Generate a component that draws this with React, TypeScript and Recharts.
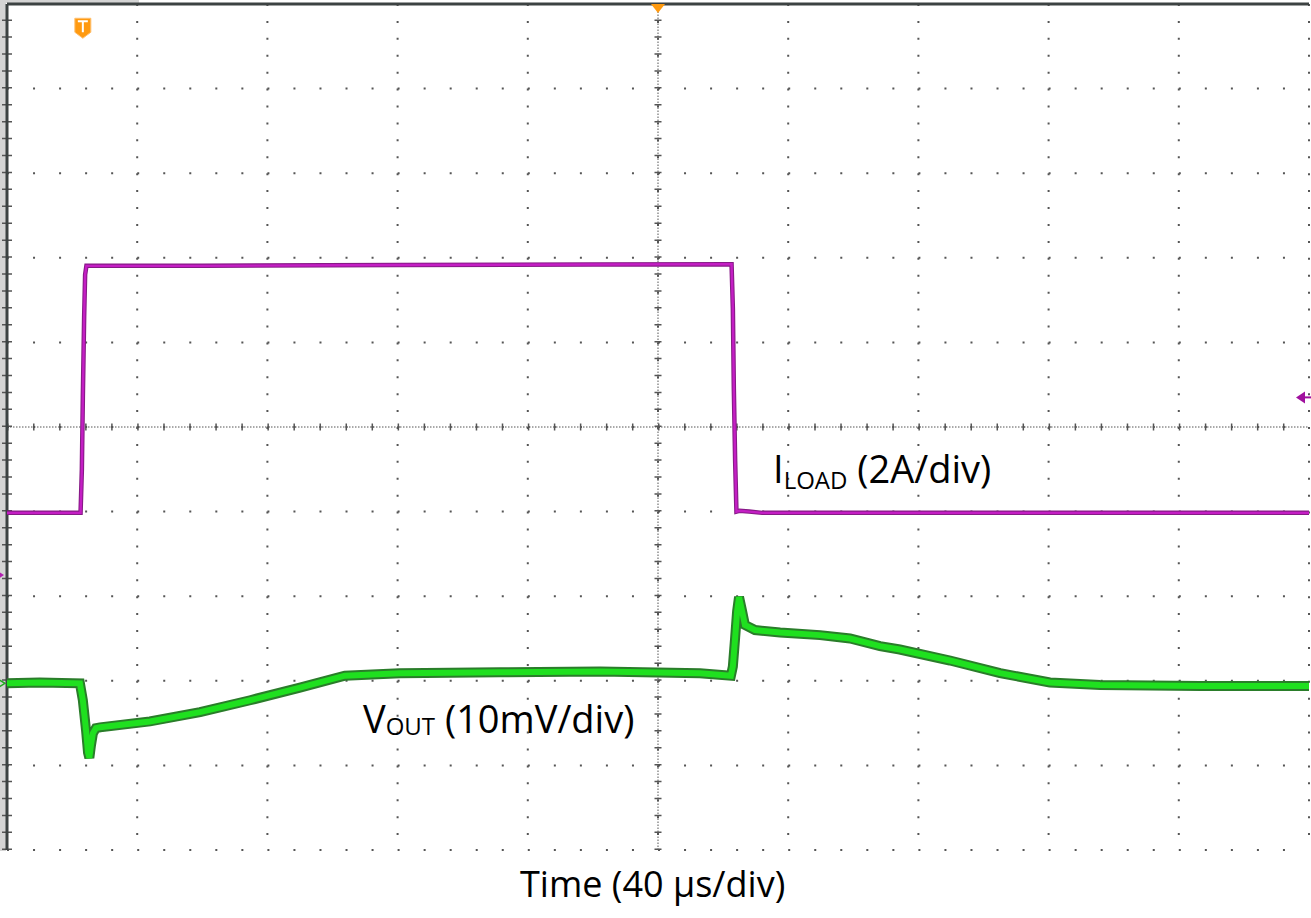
import React from "react";
import {
  CartesianGrid,
  ComposedChart,
  Line,
  ReferenceDot,
  ReferenceLine,
  XAxis,
  YAxis,
} from "recharts";

// scope grid: 10 x 10 divisions, 40 µs/div on x, 2 A/div on the I_LOAD axis
const timeTicks = [0, 40, 80, 120, 160, 200, 240, 280, 320, 360, 400];
const ampTicks = [-6.5, -4.5, -2.5, -0.5, 1.5, 3.5, 5.5, 7.5, 9.5, 11.5, 13.5];

// I_LOAD trace (µs, A) - 2 A/div
const iloadTime = [
  0, 22.6, 23.0, 23.3, 23.7, 24.0, 24.4, 60, 120, 180, 222.6, 223.0, 223.3,
  223.7, 224.1, 225.0, 228.0, 232.0, 300, 400,
];
const iloadAmps = [
  1.47, 1.47, 2.5, 4.2, 6.1, 7.1, 7.31, 7.31, 7.33, 7.34, 7.35, 6.3, 4.4, 2.7,
  1.5, 1.52, 1.5, 1.47, 1.47, 1.47,
];

// V_OUT trace (µs, mV deviation) - 10 mV/div
const voutTime = [
  0, 10, 22.4, 23.3, 24.3, 24.9, 25.3, 25.8, 26.4, 27.3, 28.6, 43.9, 59.3, 74.7,
  90.0, 103.8, 120.7, 151.5, 182.2, 212.9, 222.4, 223.0, 223.7, 224.3, 224.9,
  225.8, 226.7, 229.8, 237.5, 249.8, 259.0, 268.2, 274.3, 289.7, 305.1, 320.4,
  335.8, 366.5, 400,
];
const voutMv = [
  0, 0.1, 0, -2.0, -5.6, -8.2, -8.8, -7.3, -5.9, -5.3, -5.2, -4.5, -3.4, -2.0,
  -0.5, 0.9, 1.2, 1.3, 1.4, 1.2, 0.9, 2.0, 5.4, 8.5, 10.2, 8.6, 6.9, 6.3, 6.0,
  5.7, 5.3, 4.4, 4.0, 2.7, 1.2, 0.1, -0.2, -0.3, -0.3,
];

const TRIGGER_T = 23.3;
const TRIGGER_LEVEL_A = 4.2;
const CENTER_A = 3.5;
const TOP_A = 13.5;

const iloadData = iloadTime.map((t, i) => ({ t, amps: iloadAmps[i] }));
const voutData = voutTime.map((t, i) => ({ t, mv: voutMv[i] }));

const font = "'Open Sans', sans-serif";

const TriggerMark = (p: any) => (
  <g>
    <path
      d={`M${p.cx - 8},${p.cy - 9} h16 v14 l-8,6 l-8,-6 z`}
      fill="#ff9a10"
      stroke="#ffc070"
      strokeWidth={1}
    />
    <path
      d={`M${p.cx - 5},${p.cy - 6} h10 M${p.cx},${p.cy - 6} v11`}
      stroke="#fff"
      strokeWidth={2}
    />
  </g>
);

const CenterMark = (p: any) => (
  <path d={`M${p.cx - 7},${p.cy} h14 l-7,9 z`} fill="#ff9a10" />
);

const LevelArrow = (p: any) => (
  <g>
    <path d={`M${p.cx - 13},${p.cy} l9,-6 v12 z`} fill="#a0109e" />
    <path d={`M${p.cx - 5},${p.cy} h8`} stroke="#a0109e" strokeWidth={2} />
  </g>
);

const IloadGround = (p: any) => (
  <path d={`M${p.cx - 12},${p.cy - 6} l9,6 l-9,6 z`} fill="#b020b0" />
);

const VoutGround = (p: any) => (
  <path
    d={`M${p.cx - 12},${p.cy - 6} l10,6 l-10,6`}
    fill="none"
    stroke="#22aa22"
    strokeWidth={1.5}
  />
);

const labelStyle: React.CSSProperties = {
  position: "absolute",
  fontSize: 38,
  lineHeight: "38px",
  color: "#000",
  whiteSpace: "nowrap",
};

export default function App() {
  return (
    <div
      style={{
        position: "absolute",
        left: 0,
        top: 0,
        width: 1311,
        height: 918,
        background: "#fff",
        fontFamily: font,
        overflow: "hidden",
      }}
    >
      <div
        style={{
          position: "absolute",
          left: 0,
          top: 0,
          width: 6,
          height: 851,
          background: "#d4d4d4",
        }}
      />
      <div
        style={{
          position: "absolute",
          left: 0,
          top: 0,
          width: 139,
          height: 3,
          background: "#d4d4d4",
        }}
      />
      <div style={{ position: "absolute", left: 0, top: 0 }}>
        <ComposedChart
          width={1311}
          height={918}
          margin={{ top: 4, right: 2, bottom: 68, left: 7 }}
        >
          <XAxis
            dataKey="t"
            type="number"
            domain={[0, 400]}
            ticks={timeTicks}
            allowDataOverflow
            hide
          />
          <YAxis
            yAxisId="iload"
            type="number"
            domain={[-6.5, 13.5]}
            ticks={ampTicks}
            allowDataOverflow
            hide
          />
          <YAxis
            yAxisId="vout"
            type="number"
            domain={[-19.7, 80.3]}
            allowDataOverflow
            hide
          />
          <CartesianGrid
            yAxisId="iload"
            vertical={false}
            stroke="#555"
            strokeWidth={2}
            strokeDasharray="2 24.04"
          />
          <CartesianGrid
            yAxisId="iload"
            horizontal={false}
            stroke="#555"
            strokeWidth={2}
            strokeDasharray="2 14.92"
          />
          {/* centre cross */}
          <ReferenceLine
            yAxisId="iload"
            y={CENTER_A}
            stroke="#555"
            strokeDasharray="1.5 1.5"
          />
          <ReferenceLine
            yAxisId="iload"
            y={CENTER_A}
            stroke="#555"
            strokeWidth={7}
            strokeDasharray="1.5 24.54"
          />
          <ReferenceLine
            yAxisId="iload"
            x={200}
            stroke="#555"
            strokeDasharray="1.5 1.5"
          />
          <ReferenceLine
            yAxisId="iload"
            x={200}
            stroke="#555"
            strokeWidth={7}
            strokeDasharray="1.5 15.42"
          />
          <ReferenceLine
            yAxisId="iload"
            x={0}
            stroke="#555"
            strokeWidth={10}
            strokeDasharray="1.5 15.42"
          />
          {/* frame */}
          <ReferenceLine yAxisId="iload" x={0} stroke="#3c4242" strokeWidth={3} />
          <ReferenceLine
            yAxisId="iload"
            y={TOP_A}
            stroke="#3c4242"
            strokeWidth={3}
          />

          <Line
            yAxisId="vout"
            data={voutData}
            dataKey="mv"
            type="linear"
            stroke="#2a7d2a"
            strokeWidth={10}
            dot={false}
            isAnimationActive={false}
          />
          <Line
            yAxisId="vout"
            data={voutData}
            dataKey="mv"
            type="linear"
            stroke="#1fe01f"
            strokeWidth={6}
            dot={false}
            isAnimationActive={false}
          />
          <Line
            yAxisId="iload"
            data={iloadData}
            dataKey="amps"
            type="linear"
            stroke="#861a86"
            strokeWidth={4.5}
            dot={false}
            isAnimationActive={false}
          />
          <Line
            yAxisId="iload"
            data={iloadData}
            dataKey="amps"
            type="linear"
            stroke="#c41ec4"
            strokeWidth={2.4}
            dot={false}
            isAnimationActive={false}
          />

          <ReferenceDot
            yAxisId="iload"
            x={TRIGGER_T}
            y={12.95}
            ifOverflow="visible"
            shape={TriggerMark}
          />
          <ReferenceDot
            yAxisId="iload"
            x={200}
            y={TOP_A}
            ifOverflow="visible"
            shape={CenterMark}
          />
          <ReferenceDot
            yAxisId="iload"
            x={400}
            y={TRIGGER_LEVEL_A}
            ifOverflow="visible"
            shape={LevelArrow}
          />
          <ReferenceDot
            yAxisId="iload"
            x={0}
            y={0}
            ifOverflow="visible"
            shape={IloadGround}
          />
          <ReferenceDot
            yAxisId="vout"
            x={0}
            y={0}
            ifOverflow="visible"
            shape={VoutGround}
          />
        </ComposedChart>
      </div>

      <div style={{ ...labelStyle, left: 773, top: 449 }}>
        I<span style={{ fontSize: 24, verticalAlign: -6 }}>LOAD</span> (2A/div)
      </div>
      <div style={{ ...labelStyle, left: 363, top: 699 }}>
        V<span style={{ fontSize: 24, verticalAlign: -2 }}>OUT</span> (10mV/div)
      </div>
      <div style={{ ...labelStyle, fontSize: 36, lineHeight: "36px", left: 520, top: 866 }}>
        Time (40 µs/div)
      </div>
    </div>
  );
}
